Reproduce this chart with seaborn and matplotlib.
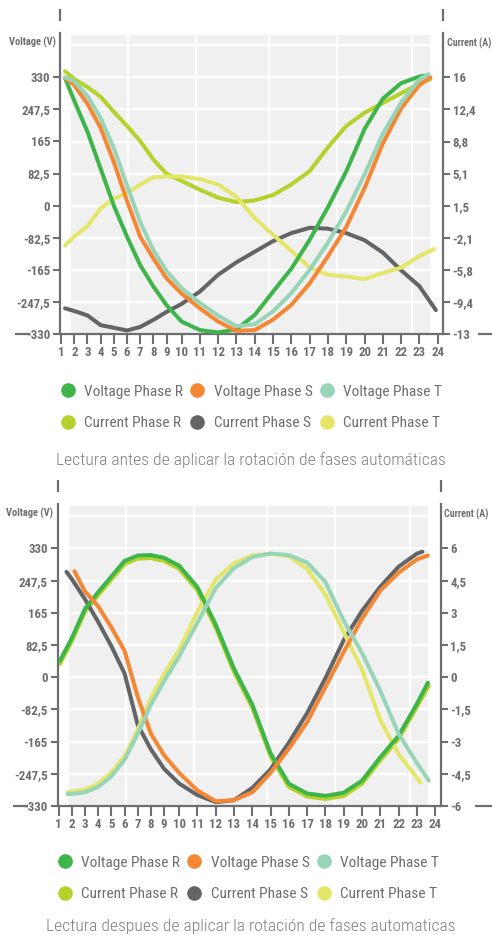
import numpy as np
import pandas as pd
import matplotlib
matplotlib.use("Agg")
import matplotlib.pyplot as plt
import seaborn as sns
from matplotlib.lines import Line2D

sns.set_theme(style="white")
plt.rcParams["font.family"] = ["Roboto Condensed", "Noto Sans Condensed", "Liberation Sans"]

W, H = 492, 935
GRAY = "#6d6e71"

volt_names = ["Voltage Phase R", "Voltage Phase S", "Voltage Phase T"]
curr_names = ["Current Phase R", "Current Phase S", "Current Phase T"]
colors = {"Voltage Phase R": "#3db54a", "Voltage Phase S": "#f58634",
          "Voltage Phase T": "#98d4b8", "Current Phase R": "#b5d22c",
          "Current Phase S": "#636466", "Current Phase T": "#e4e66a"}

# readings at whole hours; first/last point of every line is a partial hour
inner_hours = list(range(2, 24))

# --- before the automatic phase rotation (V and A)
before_first = [1.3, 1.3, 1.3, 1.3, 1.3, 1.3]
before_last = [23.4, 23.6, 23.5, 23.6, 23.9, 23.8]
before_volt_r = [328, 270, 190, 95, 0, -80, -153, -208, -256, -298, -320, -326,
                 -318, -281, -221, -162, -88, -4, 88, 197, 275, 315, 332, 335]
before_volt_s = [328, 310, 262, 200, 112, 12, -80, -136, -187, -226, -264, -298,
                 -322, -320, -293, -255, -200, -130, -55, 45, 160, 250, 310, 330]
before_volt_t = [330, 320, 282, 225, 148, 52, -42, -115, -168, -212, -250, -283,
                 -310, -305, -272, -225, -165, -95, -15, 80, 185, 265, 325, 338]
before_curr_r = [16.7, 15.8, 14.9, 13.8, 12.1, 10.5, 8.8, 6.7, 5.1, 4.3, 3.3, 2.4,
                 1.9, 2.1, 2.7, 3.9, 5.4, 8.1, 10.5, 12.0, 13.1, 14.2, 15.3, 15.8]
before_curr_s = [-10.1, -10.4, -10.9, -12.0, -12.3, -12.6, -12.2, -11.4, -10.5, -9.6,
                 -8.2, -6.3, -4.9, -3.7, -2.5, -1.6, -1.0, -1.1, -1.6, -2.4, -3.8,
                 -5.8, -7.6, -10.3]
before_curr_t = [-3.0, -2.0, -0.8, 1.2, 2.3, 2.9, 3.9, 4.7, 4.8, 4.8, 4.5, 3.9, 2.5,
                 0.1, -1.8, -3.6, -5.5, -6.3, -6.5, -6.8, -6.1, -5.5, -4.2, -3.4]

# --- after the automatic phase rotation
after_first = [1.1, 2.2, 1.7, 1.1, 1.6, 1.7]
after_last = [23.6, 23.6, 23.65, 23.65, 23.3, 23.2]
after_volt_r = [42, 100, 175, 218, 258, 298, 312, 313, 306, 286, 231, 135, 22, -70,
                -195, -273, -298, -304, -296, -265, -205, -150, -68, -14]
after_volt_s = [272, 220, 182, 128, 68, -50, -145, -200, -245, -290, -318, -315,
                -295, -245, -183, -115, -25, 65, 150, 222, 268, 302, 312]
after_volt_t = [-300, -299, -295, -281, -254, -212, -145, -70, -10, 53, 140, 228, 280,
                308, 317, 313, 294, 244, 145, 62, -35, -145, -220, -265]
after_curr_r = [0.62, 1.67, 3.04, 3.82, 4.55, 5.27, 5.53, 5.55, 5.42, 5.05, 4.05, 2.31,
                0.25, -1.42, -3.69, -5.11, -5.56, -5.67, -5.53, -4.96, -3.87, -2.87,
                -1.38, -0.40]
after_curr_s = [4.91, 4.58, 3.64, 2.58, 1.45, 0.18, -2.22, -3.36, -4.27, -4.95, -5.49,
                -5.82, -5.73, -5.16, -4.29, -3.05, -1.67, -0.04, 1.73, 3.09, 4.22, 5.15,
                5.76, 5.85]
after_curr_t = [-5.35, -5.33, -5.24, -4.96, -4.44, -3.69, -2.45, -0.95, 0.15, 1.27, 3.05,
                4.55, 5.31, 5.67, 5.76, 5.64, 5.05, 3.85, 2.09, 0.36, -2.0, -3.58, -4.69,
                -4.91]

volt_ticks = [-330, -247.5, -165, -82.5, 0, 82.5, 165, 247.5, 330]
before_curr_ticks = list(np.linspace(-13, 16, 9))
before_curr_labels = ["-13", "-9,4", "-5,8", "-2,1", "1,5", "5,1", "8,8", "12,4", "16"]
after_curr_ticks = [-6, -4.5, -3, -1.5, 0, 1.5, 3, 4.5, 6]

captions = ["Lectura antes de aplicar la rotación de fases automáticas",
            "Lectura despues de aplicar la rotación de fases automaticas"]

# the hour labels get wider spacing from "10" on, as in the source graphic
BREAK, SLOPE_A, SLOPE_B = 9.65, 13.2, 18.3


def hour_fwd(h):
    h = np.asarray(h, dtype=float)
    return np.where(h <= BREAK, (h - 1) * SLOPE_A,
                    (BREAK - 1) * SLOPE_A + (h - BREAK) * SLOPE_B)


def hour_inv(u):
    u = np.asarray(u, dtype=float)
    ub = (BREAK - 1) * SLOPE_A
    return np.where(u <= ub, 1 + u / SLOPE_A, BREAK + (u - ub) / SLOPE_B)


def line_hours(first, last):
    return [first] + [h for h in inner_hours if first < h < last] + [last]


def long_table(names, values, firsts, lasts):
    rows = []
    for name, vals, f, l in zip(names, values, firsts, lasts):
        rows += [(name, h, v) for h, v in zip(line_hours(f, l), vals)]
    return pd.DataFrame(rows, columns=["series", "hour", "value"])


def fmt(v):
    return f"{v:g}".replace(".", ",")


fig = plt.figure(figsize=(W / 100, H / 100), dpi=100)


def draw_panel(box, volts, currs, firsts, lasts, cticks, clabels, legend_xy, caption, cap_y):
    l, t, r, b = box
    ax_i = fig.add_axes([l / W, 1 - b / H, (r - l) / W, (b - t) / H])
    ax_v = ax_i.twinx()
    for a in (ax_i, ax_v):
        a.set_xscale("function", functions=(hour_fwd, hour_inv))
    ax_i.set_xlim(0.92, 24.29)

    vlim = (-330, 444)
    k = (cticks[-1] - cticks[0]) / (volt_ticks[-1] - volt_ticks[0])
    to_curr = lambda v: cticks[0] + (v - volt_ticks[0]) * k
    ax_v.set_ylim(*vlim)
    ax_i.set_ylim(to_curr(vlim[0]), to_curr(vlim[1]))

    ax_i.axvspan(1.76, 23.58, ymax=0.993, color="#f0f0f0", lw=0, zorder=0)
    for g in cticks[1:] + [to_curr(412.5)]:
        ax_i.axhline(g, color="white", lw=1.6, zorder=0.6)
    for g in [6.1, 10.8, 14.8, 18.5, 22.6]:
        ax_i.axvline(g, ymax=0.993, color="white", lw=1.6, zorder=0.6)

    df_i = long_table(curr_names, currs, firsts[3:], lasts[3:])
    df_v = long_table(volt_names, volts, firsts[:3], lasts[:3])
    sns.lineplot(data=df_i, x="hour", y="value", hue="series", hue_order=curr_names,
                 palette=colors, estimator=None, legend=False, lw=2.9,
                 solid_capstyle="round", solid_joinstyle="round", ax=ax_i)
    sns.lineplot(data=df_v, x="hour", y="value", hue="series", hue_order=volt_names,
                 palette=colors, estimator=None, legend=False, lw=2.9,
                 solid_capstyle="round", solid_joinstyle="round", ax=ax_v)

    for a in (ax_i, ax_v):
        a.set_xlabel("")
        a.set_ylabel("")
        for s in a.spines.values():
            s.set_visible(False)
    for side in ("left", "right"):
        ax_i.spines[side].set_visible(True)
        ax_i.spines[side].set_color(GRAY)
        ax_i.spines[side].set_linewidth(1.6)

    tick_kw = dict(direction="out", length=5, width=1.5, color=GRAY,
                   labelcolor=GRAY, labelsize=9.3, pad=2)
    ax_i.yaxis.tick_right()
    ax_v.yaxis.tick_left()
    ax_i.tick_params(axis="y", **tick_kw)
    ax_v.tick_params(axis="y", **tick_kw)
    ax_i.set_yticks(cticks)
    ax_i.set_yticklabels(clabels, fontweight="bold")
    ax_v.set_yticks(volt_ticks)
    ax_v.set_yticklabels([fmt(v) for v in volt_ticks], fontweight="bold")
    ax_i.set_xticks(range(1, 25))
    ax_i.set_xticklabels([str(h) for h in range(1, 25)], fontweight="bold")
    ax_i.tick_params(axis="x", bottom=True, direction="out", length=7, width=1.5,
                     color=GRAY, labelcolor=GRAY, labelsize=9.3, pad=2)
    ax_i.grid(False)
    ax_v.grid(False)

    wpx, hpx = r - l, b - t
    line_kw = dict(transform=ax_i.transAxes, clip_on=False, color=GRAY, lw=1.6,
                   solid_capstyle="butt")
    ax_i.plot([0, 1], [0, 0], **line_kw)
    ax_i.plot([-45 / wpx, -30 / wpx], [0, 0], **line_kw)
    ax_i.plot([1 + 35 / wpx, 1 + 60 / wpx], [0, 0], **line_kw)
    for x in (0, 1):
        ax_i.plot([x, x], [1 + 12 / hpx, 1 + 24 / hpx], **line_kw)

    ax_i.text(-28 / wpx, 1 - 9 / hpx, "Voltage (V)", transform=ax_i.transAxes,
              ha="center", va="center", fontsize=7.5, fontweight="bold", color=GRAY)
    ax_i.text(1 + 4 / wpx, 1 - 10 / hpx, "Current (A)", transform=ax_i.transAxes,
              ha="left", va="center", fontsize=7.1, fontweight="bold", color=GRAY)

    order = [0, 3, 1, 4, 2, 5]
    names = volt_names + curr_names
    handles = [Line2D([], [], ls="", marker="o", markersize=9.5,
                      color=colors[names[i]]) for i in order]
    fig.legend(handles, [names[i] for i in order], ncol=3, loc="center",
               bbox_to_anchor=(legend_xy[0] / W, 1 - legend_xy[1] / H),
               frameon=False, fontsize=11.1, labelcolor=GRAY, handlelength=1.0,
               handletextpad=0.55, columnspacing=0.45, labelspacing=1.15)
    fig.text(251 / W, 1 - cap_y / H, caption, ha="center", va="center",
             fontsize=12.6, fontweight="light", color="#7f7f80")


draw_panel((60, 33, 443, 334),
           [before_volt_r, before_volt_s, before_volt_t],
           [before_curr_r, before_curr_s, before_curr_t],
           before_first, before_last, before_curr_ticks, before_curr_labels,
           (251, 407.5), captions[0], 460)
draw_panel((57.5, 504, 440.5, 806),
           [after_volt_r, after_volt_s, after_volt_t],
           [after_curr_r, after_curr_s, after_curr_t],
           after_first, after_last, after_curr_ticks,
           [fmt(v) for v in after_curr_ticks],
           (248, 878.5), captions[1], 926.5)

fig.savefig("out.png", dpi=100)
